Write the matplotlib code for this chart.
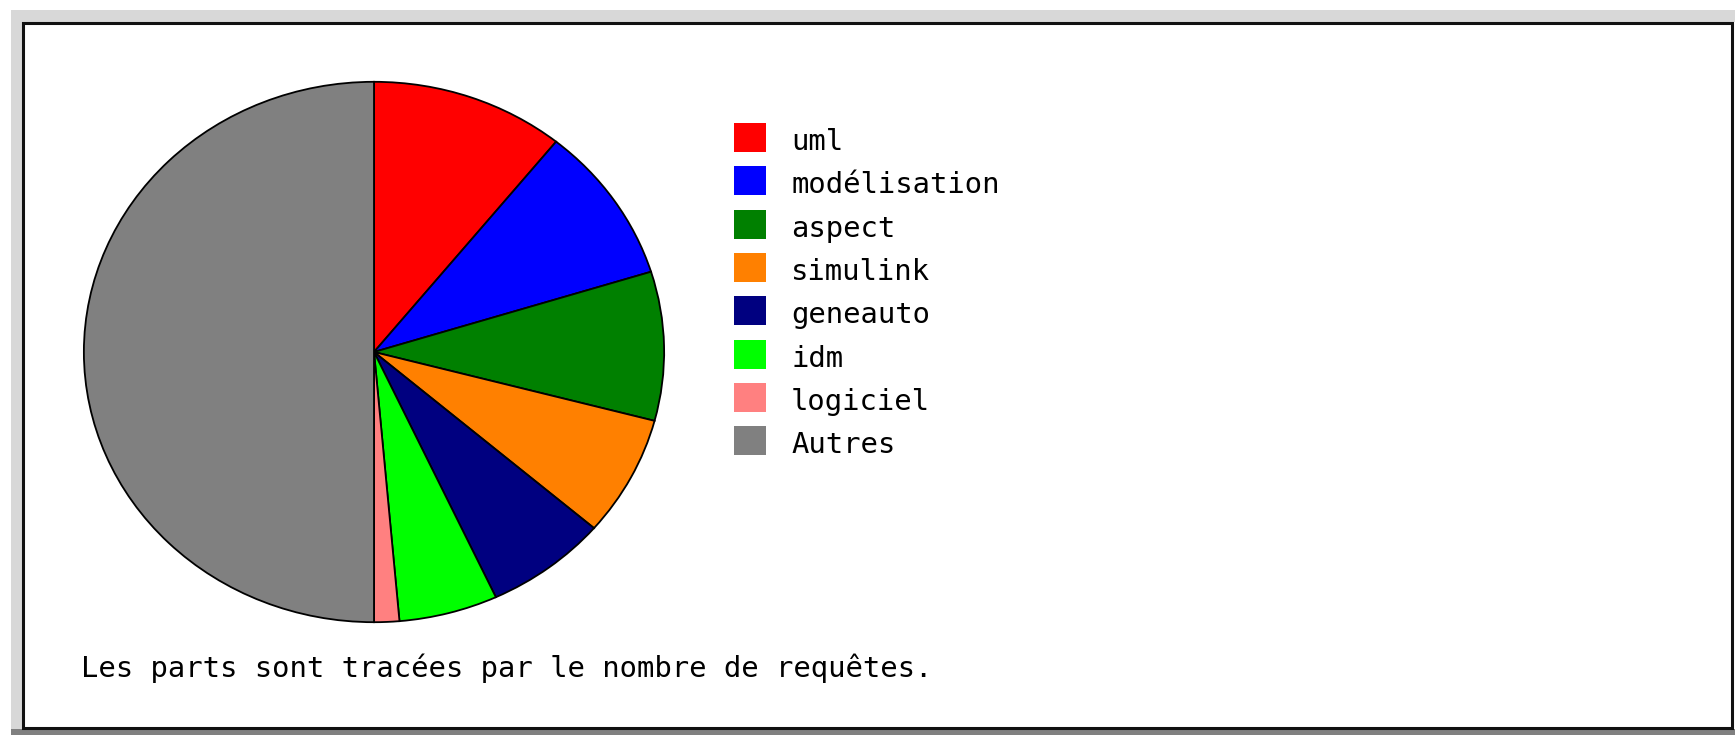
import matplotlib
matplotlib.use("Agg")
import matplotlib.pyplot as plt
from matplotlib.patches import Rectangle

# ---- data ----
labels = ["uml", "modélisation", "aspect", "simulink", "geneauto", "idm", "logiciel", "Autres"]
values = [10.8, 9.4, 8.9, 7.2, 6.8, 5.5, 1.4, 50.0]
colors = ["#ff0000", "#0000ff", "#008000", "#ff8000", "#000080", "#00ff00", "#ff8080", "#808080"]
caption = "Les parts sont tracées par le nombre de requêtes."

W, H = 1735, 735
fig = plt.figure(figsize=(W / 100, H / 100), dpi=100)
fig.patch.set_facecolor("white")

# background / frame axes in pixel coordinates
bg = fig.add_axes([0, 0, 1, 1])
bg.set_xlim(0, W)
bg.set_ylim(H, 0)
bg.axis("off")

# light gray bevel top and left
bg.add_patch(Rectangle((11, 10), W - 11, 12, facecolor="#d8d8d8", edgecolor="none"))
bg.add_patch(Rectangle((11, 10), 11, H - 10, facecolor="#d8d8d8", edgecolor="none"))
# dark gray bottom strip
bg.add_patch(Rectangle((11, 729), W - 11, 6, facecolor="#808080", edgecolor="none"))
# black frame
bg.add_patch(Rectangle((23, 23), 1709, 705, facecolor="white", edgecolor="#111111", linewidth=2.2))

# pie axes (elliptical pie: stretched axes)
px0, px1 = 83, 665
py0, py1 = 81, 623
pax = fig.add_axes([px0 / W, 1 - py1 / H, (px1 - px0) / W, (py1 - py0) / H])
pax.pie(values, colors=colors, startangle=90, counterclock=False,
        wedgeprops=dict(edgecolor="black", linewidth=1.3))
pax.set_aspect("auto")
pax.set_xlim(-1.003, 1.003)
pax.set_ylim(-1.003, 1.003)
pax.axis("off")

# legend
font = dict(family="DejaVu Sans Mono", fontsize=20.8, color="black")
sq_x, sq_w, sq_h = 734, 32, 29
y0, dy = 137.5, 43.3
for i, (lab, col) in enumerate(zip(labels, colors)):
    yc = y0 + i * dy
    bg.add_patch(Rectangle((sq_x, yc - sq_h / 2), sq_w, sq_h, facecolor=col, edgecolor="none"))
    bg.text(791, yc + 12.5, lab, va="baseline", ha="left", **font)

bg.text(81, 677, caption, va="baseline", ha="left", **font)

fig.savefig("out.png", dpi=100)
